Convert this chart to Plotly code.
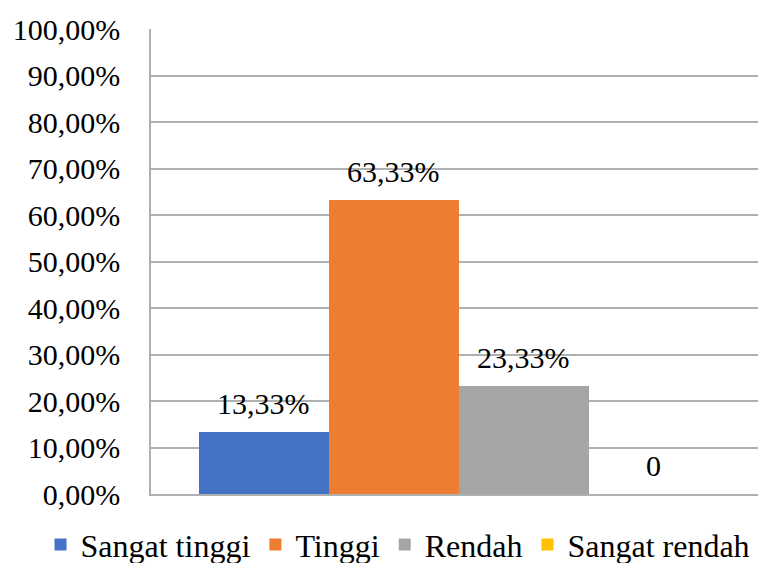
import plotly.graph_objects as go

categories = ["Sangat tinggi", "Tinggi", "Rendah", "Sangat rendah"]
values = [0.1333, 0.6333, 0.2333, 0.0]
colors = ["#4472C4", "#ED7D31", "#A5A5A5", "#FFC000"]
y_ticks = [i / 10 for i in range(11)]

FONT = "Liberation Serif"

fig = go.Figure()
for cat, val, col in zip(categories, values, colors):
    fig.add_trace(go.Bar(x=[cat], y=[val], name=cat, marker=dict(color=col, line=dict(width=0)),
                         hoverinfo="skip"))

for cat, val in zip(categories, values):
    txt = f"{val*100:.2f}%".replace(".", ",") if val else "0"
    fig.add_annotation(x=cat, y=val, text=txt, showarrow=False, xref="x", yref="y",
                       yanchor="bottom", yshift=10, font=dict(family=FONT, size=30, color="#000"))

fig.update_layout(
    width=758, height=563,
    margin=dict(l=151, r=0, t=29, b=69, autoexpand=False),
    paper_bgcolor="white", plot_bgcolor="white",
    barmode="overlay", bargap=0,
    separators=",.",
    font=dict(family=FONT, size=30, color="#000"),
    showlegend=True,
    legend=dict(orientation="h", xref="paper", yref="paper", x=-0.182, xanchor="left",
                y=-0.05, yanchor="top",
                font=dict(family=FONT, size=32, color="#000"), itemsizing="constant",
                traceorder="normal"),
)
fig.update_xaxes(range=[-0.869, 3.8], showticklabels=False, showgrid=False, zeroline=False,
                 showline=True, linecolor="#b0b0b0", linewidth=1.5, ticks="")
fig.update_yaxes(range=[0, 1], tickvals=y_ticks, tickformat=".2%", showgrid=True,
                 gridcolor="#b0b0b0", gridwidth=1.5, zeroline=False, showline=True,
                 linecolor="#b0b0b0", linewidth=1.5, ticks="", ticklabelstandoff=23,
                 tickfont=dict(family=FONT, size=30, color="#000"))

fig.write_html("out.html", config={"displayModeBar": False},
               post_script="document.body.style.margin='0';document.body.style.overflow='hidden';")
